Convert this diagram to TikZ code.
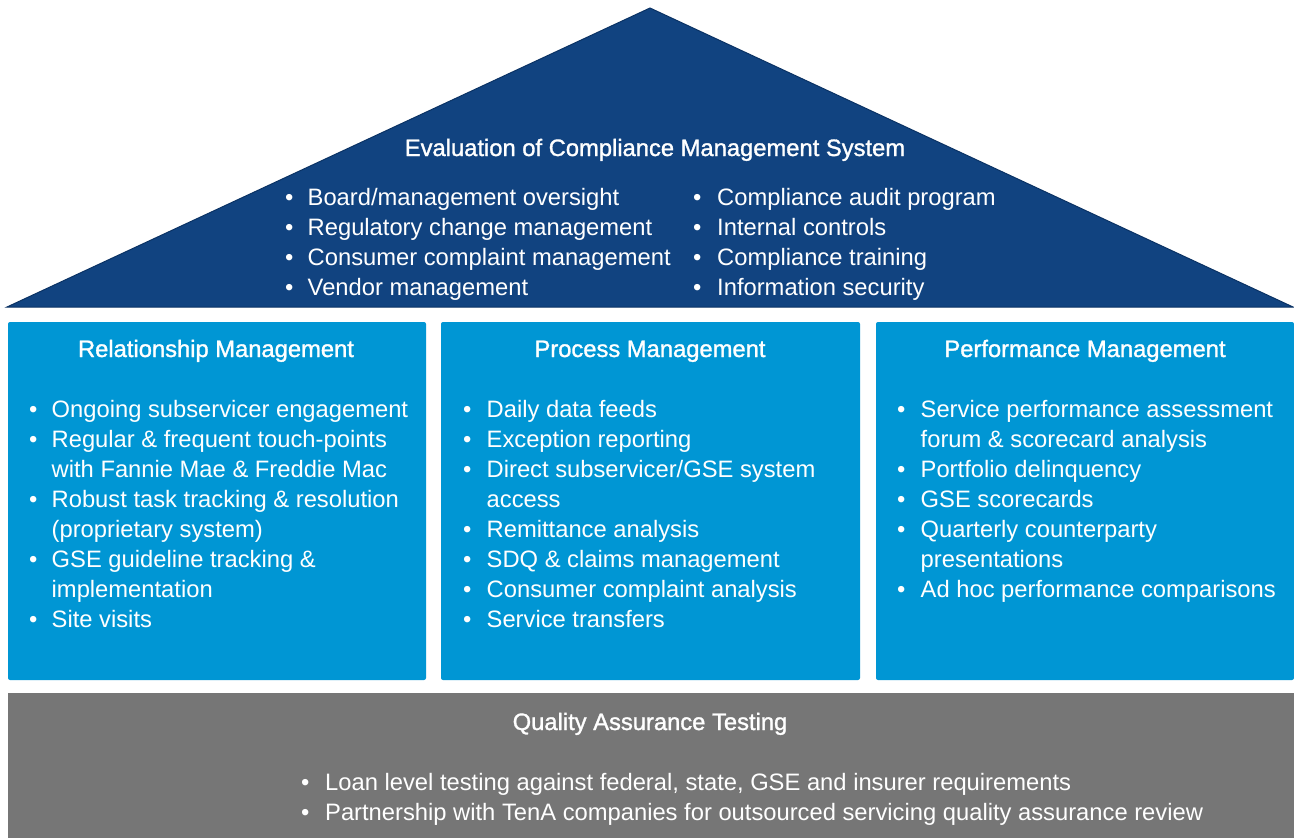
\documentclass[tikz,border=0pt]{standalone}
\usepackage{fontspec}
\setmainfont{Liberation Sans}
\newfontfamily\titlefont[FakeBold=1.3]{Liberation Sans}
\usepackage{array}
\definecolor{roofblue}{RGB}{17,67,128}
\definecolor{roofedge}{RGB}{10,50,100}
\definecolor{boxblue}{RGB}{0,150,212}
\definecolor{qagray}{RGB}{118,118,118}
\newcommand{\bodyfont}{\fontsize{23.75bp}{30bp}\selectfont}
\newcommand{\headfont}{\titlefont\fontsize{23.75bp}{30bp}\selectfont}
\newcolumntype{B}{@{}>{\raggedright\arraybackslash}p{22.5bp}@{}l@{}}
\begin{document}
\begin{tikzpicture}[x=1bp,y=-1bp,
  txt/.style={text=white,font=\bodyfont,inner sep=0pt,anchor=base west},
  ttl/.style={text=white,font=\headfont,inner sep=0pt,anchor=base},
  pillar/.style={fill=boxblue,rounded corners=2bp},
]
\useasboundingbox (0,0) rectangle (1294,838);
\fill[white] (0,0) rectangle (1294,838);
% roof
\draw[fill=roofblue,draw=roofedge,line width=1bp] (650,8) -- (1293,307) -- (7,307) -- cycle;
\node[ttl] (rooftitle) at (655,156) {Evaluation of Compliance Management System};
\node[txt] (roofA) at (285,205) {\begin{tabular}[t]{B}
•& Board/management oversight\\
•& Regulatory change management\\
•& Consumer complaint management\\
•& Vendor management
\end{tabular}};
\node[txt] (roofB) at (693,205) {\begin{tabular}[t]{@{}>{\raggedright\arraybackslash}p{24bp}@{}l@{}}
•& Compliance audit program\\
•& Internal controls\\
•& Compliance training\\
•& Information security
\end{tabular}};
% pillars
\fill[pillar] (8,322) rectangle (426,680);
\fill[pillar] (441,322) rectangle (860,680);
\fill[pillar] (876,322) rectangle (1294,680);
\node[ttl] (relT) at (216,357) {Relationship Management};
\node[ttl] (proT) at (650,357) {Process Management};
\node[ttl] (perT) at (1085,357) {Performance Management};
\node[txt] (relL) at (29,417) {\begin{tabular}[t]{B}
•& Ongoing subservicer engagement\\
•& Regular \& frequent touch-points\\
 & with Fannie Mae \& Freddie Mac\\
•& Robust task tracking \& resolution\\
 & (proprietary system)\\
•& GSE guideline tracking \&\\
 & implementation\\
•& Site visits
\end{tabular}};
\node[txt] (proL) at (463,417) {\begin{tabular}[t]{@{}>{\raggedright\arraybackslash}p{23.5bp}@{}l@{}}
•& Daily data feeds\\
•& Exception reporting\\
•& Direct subservicer/GSE system\\
 & access\\
•& Remittance analysis\\
•& SDQ \& claims management\\
•& Consumer complaint analysis\\
•& Service transfers
\end{tabular}};
\node[txt] (perL) at (897,417) {\begin{tabular}[t]{@{}>{\raggedright\arraybackslash}p{23.5bp}@{}l@{}}
•& Service performance assessment\\
 & forum \& scorecard analysis\\
•& Portfolio delinquency\\
•& GSE scorecards\\
•& Quarterly counterparty\\
 & presentations\\
•& Ad hoc performance comparisons
\end{tabular}};
% foundation
\fill[qagray] (8,693) rectangle (1294,838);
\node[ttl] (qaT) at (650,730) {Quality Assurance Testing};
\node[txt] (qaL) at (301,790) {\begin{tabular}[t]{@{}>{\raggedright\arraybackslash}p{24bp}@{}l@{}}
•& Loan level testing against federal, state, GSE and insurer requirements\\
•& Partnership with TenA companies for outsourced servicing quality assurance review
\end{tabular}};
\end{tikzpicture}
\end{document}
